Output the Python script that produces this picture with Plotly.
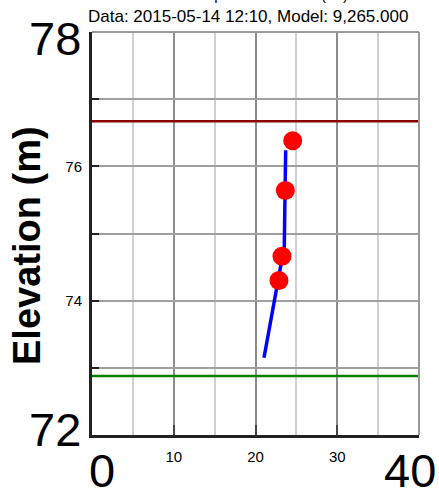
import plotly.graph_objects as go

# ---- data ----
obs_temp = [24.55, 23.65, 23.24, 22.87]
obs_elev = [76.38, 75.64, 74.66, 74.30]
model_temp = [23.69, 23.52, 21.04]
model_elev = [76.24, 74.81, 73.15]
top_level = 76.67      # dark red reference line
bottom_level = 72.88   # green reference line
x_range = [0, 40]
y_range = [72, 78]
y_tickvals = [72, 73, 74, 75, 76, 77, 78]
y_ticktext = ["", "", "74", "", "76", "", ""]
x_tickvals = [0, 10, 20, 30, 40]
x_ticktext = ["", "10", "20", "30", ""]
big_y_labels = [("78", 78), ("72", 72)]
big_x_labels = [("0", 0), ("40", 40)]
title_hidden = "Temperature Profile (°C)"
subtitle = "Data: 2015-05-14 12:10, Model: 9,265.000"
y_title = "Elevation (m)"

FONT = "Arial, Liberation Sans, sans-serif"

fig = go.Figure()
fig.add_trace(go.Scatter(x=x_range, y=[top_level, top_level], mode="lines",
                         line=dict(color="#8b0000", width=2.5), hoverinfo="skip"))
fig.add_trace(go.Scatter(x=x_range, y=[bottom_level, bottom_level], mode="lines",
                         line=dict(color="#008000", width=2.5), hoverinfo="skip"))
fig.add_trace(go.Scatter(x=model_temp, y=model_elev, mode="lines",
                         line=dict(color="#0000ff", width=3.5)))
fig.add_trace(go.Scatter(x=obs_temp, y=obs_elev, mode="markers",
                         marker=dict(color="#ff0000", size=19, line=dict(width=0))))

W, H = 439, 494
L, R, T, B = 92, 20, 32, 59
pw, ph = W - L - R, H - T - B

def px_to_paper_x(px):
    return (px - L) / pw

def px_to_paper_y(py):
    return (H - B - py) / ph

annotations = []
for txt, v in big_y_labels:
    annotations.append(dict(text=txt, x=px_to_paper_x(83), xref="paper", y=v, yref="y",
                            xanchor="right", yanchor="middle", showarrow=False,
                            yshift=(-6 if v == 78 else 6),
                            font=dict(family=FONT, size=47, color="black")))
for txt, v in big_x_labels:
    annotations.append(dict(text=txt, x=v, xref="x", y=px_to_paper_y(470), yref="paper",
                            xanchor="center", yanchor="middle", showarrow=False,
                            xshift=(10 if v == 0 else -9),
                            font=dict(family=FONT, size=47, color="black")))
annotations.append(dict(text=subtitle, x=px_to_paper_x(248), xref="paper",
                        y=px_to_paper_y(16), yref="paper", xanchor="center", yanchor="middle",
                        showarrow=False, font=dict(family=FONT, size=17, color="black")))
annotations.append(dict(text=title_hidden, x=px_to_paper_x(267), xref="paper",
                        y=px_to_paper_y(-6), yref="paper", xanchor="center", yanchor="middle",
                        showarrow=False, font=dict(family=FONT, size=15, color="black")))
annotations.append(dict(text="<b>" + y_title + "</b>", x=px_to_paper_x(27), xref="paper",
                        y=px_to_paper_y(246), yref="paper", xanchor="center", yanchor="middle",
                        textangle=-90, showarrow=False,
                        font=dict(family=FONT, size=38, color="black")))

fig.update_layout(
    width=W, height=H,
    margin=dict(l=L, r=R, t=T, b=B, pad=0),
    paper_bgcolor="white", plot_bgcolor="white",
    showlegend=False,
    font=dict(family=FONT, color="black"),
    annotations=annotations,
    shapes=[
        dict(type="line", xref="paper", yref="paper", x0=0, x1=1, y0=1, y1=1,
             line=dict(color="#999999", width=2), layer="above"),
        dict(type="line", xref="paper", yref="paper", x0=1, x1=1, y0=0, y1=1,
             line=dict(color="#999999", width=2), layer="above"),
    ],
    xaxis=dict(range=x_range, tickmode="array", tickvals=x_tickvals, ticktext=x_ticktext,
               ticks="inside", ticklen=10, tickwidth=2, tickcolor="#444444",
               showgrid=True, gridcolor="#8c8c8c", gridwidth=2,
               minor=dict(dtick=5, showgrid=True, gridcolor="#d0d0d0", gridwidth=2, ticks=""),
               showline=True, linecolor="#222222", linewidth=3,
               zeroline=False, ticklabelstandoff=6,
               tickfont=dict(family=FONT, size=15, color="black"), fixedrange=True),
    yaxis=dict(range=y_range, tickmode="array", tickvals=y_tickvals, ticktext=y_ticktext,
               ticks="inside", ticklen=7, tickwidth=2, tickcolor="#222222",
               showgrid=True, gridcolor="#a0a0a0", gridwidth=2,
               showline=True, linecolor="#222222", linewidth=3,
               zeroline=False, ticklabelstandoff=4,
               tickfont=dict(family=FONT, size=15, color="black"), fixedrange=True),
)

fig.write_html("out.html")
